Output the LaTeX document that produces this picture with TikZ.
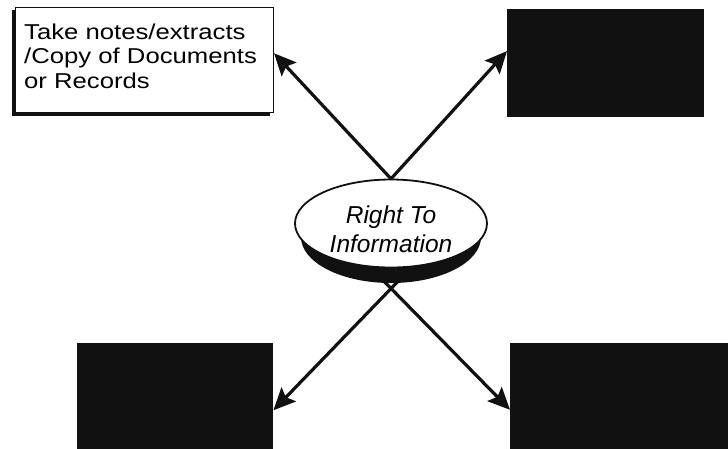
\documentclass[tikz,border=0pt]{standalone}
\usepackage{fontspec}
\setmainfont{Liberation Sans}
\usetikzlibrary{arrows.meta,shapes.geometric,calc}
\definecolor{ink}{HTML}{111111}
\tikzset{
  conn/.style={line width=3.2pt, draw=ink, -{Stealth[length=22pt,width=20pt,inset=4pt]}},
  blackbox/.style={fill=ink, draw=none, inner sep=0pt, anchor=north west},
}
\begin{document}
\begin{tikzpicture}[x=1pt,y=-1pt]
\useasboundingbox (0,0) rectangle (728,448);
% boxes
\fill[ink] (12,10) rectangle (270,116);
\node[draw=ink, line width=1pt, fill=white, anchor=north west, minimum width=258pt, minimum height=105pt, inner sep=0pt] (box1) at (15,7) {};
\node[anchor=north west, inner sep=0pt, align=left] (txt1) at (24,22) {\scalebox{1.195}[1]{\fontsize{21.5pt}{24.5pt}\selectfont\begin{tabular}{@{}l@{}}Take notes/extracts\\/Copy of Documents\\or Records\end{tabular}}};
\node[blackbox, minimum width=197pt, minimum height=108pt] (box2) at (507,9) {};
\node[blackbox, minimum width=196pt, minimum height=110pt] (box3) at (77,343) {};
\node[blackbox, minimum width=220pt, minimum height=110pt] (box4) at (510,343) {};
% ellipse geometry
\coordinate (ec) at (391,223.5);
\node[ellipse, minimum width=194pt, minimum height=89pt, inner sep=0pt] (rti) at (ec) {};
\coordinate (sl) at ($(rti.south)+(10,10)$);
\coordinate (sr) at ($(rti.south)+(-10,10)$);
% connectors
\draw[conn] (rti.north) -- (box1.3.3);
\draw[conn] (rti.north) -- (box2.173.6);
\draw[conn] (sl) -- (box3.-7.3);
\draw[conn] (sr) -- (box4.186.5);
% ellipse with shadow
\fill[ink] (391,237) ellipse [x radius=90, y radius=46];
\draw[ink, fill=white, line width=1.8pt] (ec) ellipse [x radius=96, y radius=44];
\node[align=center, font=\fontsize{24.5pt}{28.5pt}\selectfont\itshape] (lab) at (391,229) {Right To\\Information};
\end{tikzpicture}
\end{document}
